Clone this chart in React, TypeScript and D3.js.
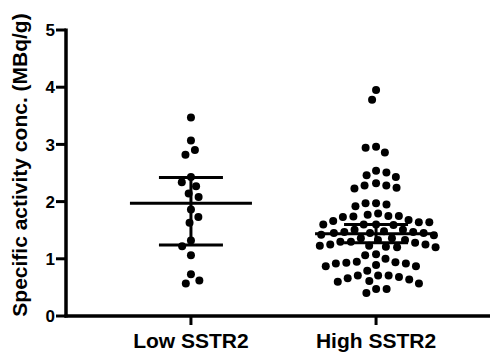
import React from "react";
import * as d3 from "d3";

// Group labels along the x axis
const groups = ["Low SSTR2", "High SSTR2"];

// Specific activity concentration per sample (MBq/g)
const lowValues = [
  3.47, 3.07, 2.9, 2.82, 2.43, 2.34, 2.27, 2.14, 2.08, 1.86, 1.73, 1.63, 1.32,
  1.22, 1.06, 0.73, 0.62, 0.57,
];
const highValues = [
  3.95, 3.78, 2.96, 2.94, 2.86, 2.54, 2.51, 2.46, 2.43, 2.32, 2.28, 2.28, 2.24,
  2.23, 1.97, 1.97, 1.95, 1.92, 1.79, 1.77, 1.75, 1.75, 1.74, 1.73, 1.68, 1.66,
  1.64, 1.64, 1.6, 1.6, 1.59, 1.6, 1.51, 1.47, 1.45, 1.45, 1.42, 1.41, 1.45,
  1.47, 1.48, 1.51, 1.36, 1.33, 1.3, 1.25, 1.23, 1.21, 1.2, 1.2, 1.23, 1.25,
  1.28, 1.3, 1.33, 1.36, 1.08, 1.06, 1.0, 0.95, 0.94, 0.93, 0.92, 0.92, 0.89,
  0.87, 0.87, 0.79, 0.71, 0.71, 0.71, 0.68, 0.66, 0.64, 0.61, 0.6, 0.57, 0.47,
  0.47, 0.4,
];

// Mean and 95% CI per group
const groupMeans = [1.97, 1.44];
const ciLower = [1.24, 1.28];
const ciUpper = [2.42, 1.6];

// Axis ticks
const yTicks = [0, 1, 2, 3, 4, 5];

const W = 490;
const H = 356;
const axisX = 66;
const axisY = 316;
const topY = 30;
const dotR = 4;
const minDist = 10.5;

// Greedy beeswarm: each point takes the horizontal offset nearest the centre
// that keeps it clear of points already placed.
function swarm(values: number[], y: (v: number) => number) {
  const sorted = [...values].sort((a, b) => b - a);
  const placed: { dx: number; y: number; v: number }[] = [];
  let flip = 1;
  for (const v of sorted) {
    const py = y(v);
    const intervals: [number, number][] = [];
    for (const p of placed) {
      const dy = Math.abs(p.y - py);
      if (dy < minDist) {
        const w = Math.sqrt(minDist * minDist - dy * dy);
        intervals.push([p.dx - w, p.dx + w]);
      }
    }
    const cands = [0];
    intervals.forEach(([a, b]) => cands.push(a, b));
    const ok = (c: number) =>
      intervals.every(([a, b]) => c <= a + 1e-6 || c >= b - 1e-6);
    let best = Infinity;
    for (const c of cands) {
      if (!ok(c)) continue;
      const better =
        Math.abs(c) < Math.abs(best) - 1e-6 ||
        (Math.abs(Math.abs(c) - Math.abs(best)) < 1e-6 && c * flip > 0);
      if (better) best = c;
    }
    flip = -flip;
    placed.push({ dx: best, y: py, v });
  }
  return placed;
}

export default function App() {
  const y = d3.scaleLinear().domain([0, 5]).range([axisY, topY]);
  const x = d3
    .scalePoint<string>()
    .domain(groups)
    .range([axisX, 501])
    .padding(0.675);

  const series = [lowValues, highValues];
  const font = "Arial, 'Liberation Sans', Helvetica, sans-serif";

  return (
    <svg
      width={W}
      height={H}
      style={{ position: "absolute", left: 0, top: 0, background: "#fff" }}
    >
      {/* points */}
      {series.map((vals, gi) => {
        const cx = x(groups[gi])!;
        return swarm(vals, y).map((p, i) => (
          <circle key={`${gi}-${i}`} cx={cx + p.dx} cy={p.y} r={dotR} fill="#000" />
        ));
      })}

      {/* mean and CI */}
      {groups.map((g, gi) => {
        const cx = x(g)!;
        return (
          <g key={g} stroke="#000" strokeWidth={3}>
            <line x1={cx - 61} x2={cx + 61} y1={y(groupMeans[gi])} y2={y(groupMeans[gi])} />
            <line x1={cx} x2={cx} y1={y(ciLower[gi])} y2={y(ciUpper[gi])} />
            <line x1={cx - 32} x2={cx + 32} y1={y(ciLower[gi])} y2={y(ciLower[gi])} />
            <line x1={cx - 32} x2={cx + 32} y1={y(ciUpper[gi])} y2={y(ciUpper[gi])} />
          </g>
        );
      })}

      {/* y axis */}
      <g fontFamily={font} fontWeight="bold" fontSize={17}>
        <line x1={axisX} x2={axisX} y1={topY - 1.5} y2={axisY + 1.5} stroke="#000" strokeWidth={3.5} />
        {yTicks.map((t) => (
          <g key={t}>
            <line x1={axisX - 10} x2={axisX} y1={y(t)} y2={y(t)} stroke="#000" strokeWidth={3} />
            <text x={55} y={y(t)} dy="0.36em" textAnchor="end" fill="#000">
              {t}
            </text>
          </g>
        ))}
      </g>

      {/* x axis */}
      <g fontFamily={font} fontWeight="bold" fontSize={21}>
        <line x1={axisX - 1.5} x2={W} y1={axisY} y2={axisY} stroke="#000" strokeWidth={3.5} />
        {groups.map((g) => (
          <g key={g}>
            <line x1={x(g)!} x2={x(g)!} y1={axisY} y2={axisY + 9} stroke="#000" strokeWidth={3} />
            <text x={x(g)!} y={348} textAnchor="middle" fill="#000">
              {g}
            </text>
          </g>
        ))}
      </g>

      {/* y axis title */}
      <text
        transform={`translate(27, ${165}) rotate(-90)`}
        textAnchor="middle"
        fontFamily={font}
        fontWeight="bold"
        fontSize={21}
        fill="#000"
      >
        Specific activity conc. (MBq/g)
      </text>
    </svg>
  );
}
